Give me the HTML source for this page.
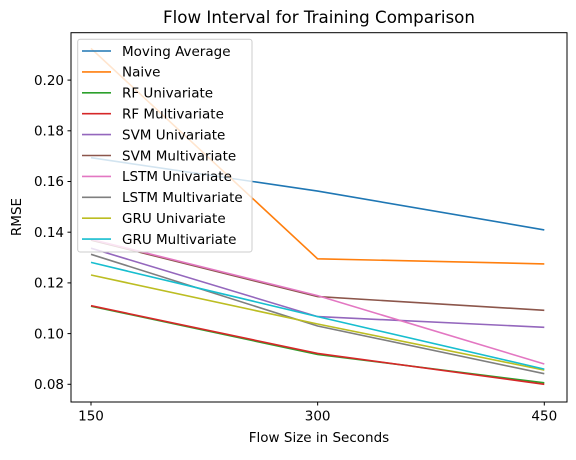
<!DOCTYPE html>
<html><head><meta charset="utf-8"><style>
body{margin:0;background:#fff;}
svg text{font-family:"DejaVu Sans","Liberation Sans",sans-serif;fill:#000;}
</style></head><body>
<svg id="chart" width="576" height="455" xmlns="http://www.w3.org/2000/svg">
<rect x="0" y="0" width="576" height="455" fill="#fff"/>
<g id="plot"></g>
<rect x="71" y="32.7" width="496" height="369.3" fill="none" stroke="#000" stroke-width="1"/>
<text x="319" y="23" font-size="16.7" text-anchor="middle">Flow Interval for Training Comparison</text>
<text x="319" y="442" font-size="13.5" text-anchor="middle">Flow Size in Seconds</text>
<text x="21" y="217" font-size="13.5" text-anchor="middle" transform="rotate(-90 21 217)">RMSE</text>
<g id="ticks"></g>
<g id="legend"></g>
</svg>
<script>
const categories = [150, 300, 450];
const seriesNames = ["Moving Average","Naive","RF Univariate","RF Multivariate","SVM Univariate","SVM Multivariate","LSTM Univariate","LSTM Multivariate","GRU Univariate","GRU Multivariate"];
const maValues = [0.1694, 0.1562, 0.1409];
const naiveValues = [0.2125, 0.1295, 0.1275];
const rfUniValues = [0.1108, 0.0918, 0.0806];
const rfMultiValues = [0.1110, 0.0922, 0.0800];
const svmUniValues = [0.1337, 0.1067, 0.1025];
const svmMultiValues = [0.1369, 0.1146, 0.1092];
const lstmUniValues = [0.1372, 0.1150, 0.0880];
const lstmMultiValues = [0.1313, 0.1030, 0.0842];
const gruUniValues = [0.1231, 0.1038, 0.0856];
const gruMultiValues = [0.1281, 0.1067, 0.0860];
const colors = ["#1f77b4","#ff7f0e","#2ca02c","#d62728","#9467bd","#8c564b","#e377c2","#7f7f7f","#bcbd22","#17becf"];
const yTicks = [0.08, 0.10, 0.12, 0.14, 0.16, 0.18, 0.20];
const yTickLabels = ["0.08","0.10","0.12","0.14","0.16","0.18","0.20"];
const allSeries = [maValues,naiveValues,rfUniValues,rfMultiValues,svmUniValues,svmMultiValues,lstmUniValues,lstmMultiValues,gruUniValues,gruMultiValues];

const NS = "http://www.w3.org/2000/svg";
function xs(v){ return 91 + (v - 150) * (544.3 - 91) / 300; }
function ys(v){ return 384.3 - (v - 0.08) * 2535; }
function mk(tag, attrs, parent){ const e = document.createElementNS(NS, tag); for (const k in attrs) e.setAttribute(k, attrs[k]); parent.appendChild(e); return e; }

const plot = document.getElementById('plot');
allSeries.forEach((vals, i) => {
  const pts = vals.map((v, j) => xs(categories[j]).toFixed(1) + "," + ys(v).toFixed(1)).join(" ");
  const pl = mk('polyline', {points: pts, fill: 'none', stroke: colors[i], 'stroke-width': 1.6}, plot);
  
  
});

const ticks = document.getElementById('ticks');
yTicks.forEach((t, i) => {
  const y = ys(t);
  mk('line', {x1: 67.5, x2: 71, y1: y, y2: y, stroke: '#000'}, ticks);
  const tx = mk('text', {x: 64, y: y + 4.7, 'font-size': 13.5, 'text-anchor': 'end'}, ticks);
  tx.textContent = yTickLabels[i];
  
  
});
categories.forEach(c => {
  const x = xs(c);
  mk('line', {x1: x, x2: x, y1: 402, y2: 405.5, stroke: '#000'}, ticks);
  const tx = mk('text', {x: x, y: 420.5, 'font-size': 13.5, 'text-anchor': 'middle'}, ticks);
  tx.textContent = String(c);
  
  
});

const legend = document.getElementById('legend');
const box = mk('rect', {x: 77.7, y: 39.3, width: 174.3, height: 212.7, rx: 2.5, fill: '#fff', 'fill-opacity': 0.8, stroke: '#ccc', 'stroke-width': 1}, legend);


seriesNames.forEach((n, i) => {
  const y = 51 + i * 20.9;
  mk('line', {x1: 82, x2: 111, y1: y, y2: y, stroke: colors[i], 'stroke-width': 1.6}, legend);
  const tx = mk('text', {x: 122, y: y + 4.8, 'font-size': 13.5}, legend);
  tx.textContent = n;
  
  
});
</script>
</body></html>
